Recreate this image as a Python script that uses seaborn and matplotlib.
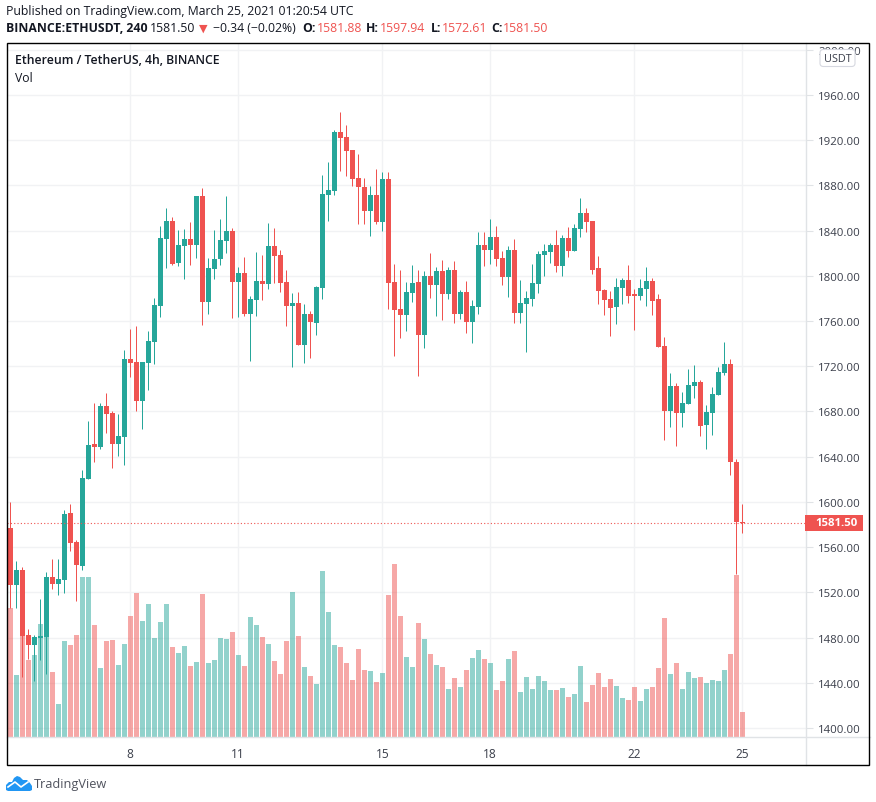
"""
==============================================================================
ETHUSDT 4h Chart — Candlesticks with Volume
==============================================================================
Purpose:
    Redraw a published candlestick snapshot with its volume bars.

Output:
    out.png
==============================================================================
"""

import pandas as pd
import numpy as np
import matplotlib.pyplot as plt
import seaborn as sns
from matplotlib.lines import Line2D
from matplotlib.patches import FancyBboxPatch, Polygon, Rectangle

# Set style
plt.style.use('default')
plt.rcParams['font.family'] = ['Open Sans', 'DejaVu Sans']

# =============================================================================
# CONFIGURATION
# =============================================================================

FIG_W = 876
FIG_H = 803

UP_COLOR = '#26a69a'
DOWN_COLOR = '#ef5350'
GRID_COLOR = '#f1f2f4'
LINE_COLOR = '#e0e3e6'
TEXT_COLOR = '#3a3e4a'

# Candles, oldest first (4h)
OPENS = [1577.0, 1526.5, 1539.8, 1482.3, 1473.4, 1479.6, 1480.5, 1533.6, 1527.4, 1530.9,
         1590.2, 1564.6, 1543.3, 1620.3, 1651.3, 1648.6, 1684.9, 1678.7, 1651.3, 1657.4,
         1726.4, 1723.8, 1689.3, 1722.9, 1741.5, 1773.3, 1832.6, 1848.5, 1811.4, 1826.4,
         1832.6, 1827.3, 1870.7, 1776.9, 1806.1, 1814.9, 1830.9, 1839.7, 1794.6, 1802.5,
         1766.3, 1778.7, 1795.5, 1792.8, 1826.4, 1818.4, 1794.5, 1773.3, 1775.9, 1738.8,
         1766.2, 1758.2, 1789.2, 1871.5, 1875.0, 1927.2, 1922.8, 1911.3, 1886.5, 1878.6,
         1857.3, 1871.5, 1847.6, 1885.6, 1794.5, 1770.6, 1765.3, 1784.8, 1794.5, 1747.6,
         1799.8, 1791.9, 1804.2, 1783.9, 1805.1, 1766.2, 1785.7, 1759.1, 1772.4, 1827.2,
         1822.8, 1834.3, 1815.7, 1798.9, 1822.8, 1767.1, 1775.0, 1779.5, 1792.7, 1818.4,
         1821.1, 1827.3, 1808.7, 1833.5, 1822.0, 1841.4, 1855.6, 1848.5, 1806.9, 1787.5,
         1779.5, 1772.4, 1789.2, 1796.3, 1783.9, 1782.1, 1788.3, 1795.4, 1779.5, 1737.9,
         1680.4, 1702.5, 1678.6, 1686.6, 1702.5, 1706.1, 1668.0, 1678.6, 1694.6, 1714.0,
         1722.0, 1635.3, 1581.88]
HIGHS = [1599.9, 1547.7, 1542.4, 1487.6, 1482.3, 1514.1, 1538.0, 1549.5, 1549.5, 1592.9,
         1598.2, 1566.3, 1628.2, 1671.6, 1687.5, 1687.5, 1696.4, 1680.4, 1677.8, 1734.4,
         1753.0, 1755.6, 1723.8, 1751.2, 1780.4, 1844.1, 1860.0, 1852.1, 1840.6, 1841.5,
         1847.7, 1870.7, 1877.7, 1815.8, 1840.6, 1850.3, 1870.7, 1842.4, 1807.9, 1816.7,
         1782.2, 1821.1, 1818.5, 1846.8, 1842.4, 1822.8, 1805.1, 1784.8, 1785.7, 1775.0,
         1768.9, 1791.0, 1889.2, 1900.7, 1929.0, 1944.9, 1933.4, 1911.3, 1907.7, 1886.5,
         1879.4, 1894.5, 1891.8, 1891.8, 1810.4, 1805.1, 1794.5, 1809.5, 1805.1, 1804.2,
         1820.2, 1807.8, 1814.0, 1807.8, 1813.1, 1787.4, 1795.4, 1778.6, 1838.7, 1838.7,
         1850.2, 1844.1, 1821.9, 1826.4, 1832.6, 1796.3, 1786.5, 1810.4, 1821.9, 1828.1,
         1829.0, 1840.5, 1836.1, 1843.2, 1845.8, 1868.8, 1860.0, 1848.5, 1817.5, 1788.3,
         1786.6, 1798.1, 1798.1, 1809.6, 1788.3, 1797.2, 1807.8, 1798.1, 1783.9, 1745.9,
         1714.0, 1705.2, 1697.2, 1717.6, 1721.1, 1707.8, 1685.7, 1701.6, 1719.3, 1741.4,
         1726.4, 1637.9, 1597.94]
LOWS = [1506.2, 1506.2, 1445.1, 1461.0, 1441.6, 1460.1, 1447.8, 1523.0, 1517.7, 1519.4,
        1556.6, 1512.4, 1539.8, 1620.3, 1635.3, 1646.8, 1661.0, 1630.0, 1640.6, 1632.7,
        1710.5, 1680.4, 1664.5, 1699.0, 1722.0, 1763.6, 1807.0, 1809.6, 1808.7, 1797.2,
        1809.6, 1815.8, 1756.5, 1766.3, 1797.2, 1809.6, 1820.2, 1762.7, 1763.6, 1764.5,
        1724.7, 1764.5, 1778.7, 1788.4, 1793.7, 1785.7, 1755.6, 1719.3, 1738.8, 1722.9,
        1727.3, 1747.6, 1779.5, 1848.5, 1871.5, 1892.7, 1888.3, 1879.4, 1845.8, 1845.8,
        1835.2, 1845.8, 1839.6, 1770.6, 1729.0, 1745.0, 1751.2, 1776.8, 1711.4, 1736.1,
        1780.4, 1764.4, 1760.9, 1779.5, 1758.2, 1761.8, 1749.4, 1740.5, 1766.2, 1808.7,
        1810.4, 1808.7, 1791.9, 1781.2, 1758.2, 1758.2, 1732.6, 1773.3, 1784.8, 1799.8,
        1811.3, 1803.4, 1799.8, 1816.6, 1822.0, 1834.3, 1838.8, 1801.6, 1775.1, 1765.3,
        1746.8, 1757.4, 1775.1, 1776.0, 1752.1, 1778.6, 1773.3, 1765.3, 1737.0, 1654.8,
        1666.3, 1649.4, 1666.3, 1686.6, 1691.9, 1658.3, 1646.8, 1659.2, 1694.6, 1712.3,
        1623.8, 1536.2, 1572.61]
CLOSES = [1526.5, 1539.8, 1481.4, 1473.4, 1480.5, 1481.4, 1533.6, 1527.4, 1531.8, 1589.3,
          1563.7, 1544.2, 1621.2, 1650.4, 1648.6, 1684.9, 1677.8, 1651.3, 1658.3, 1726.4,
          1722.9, 1689.3, 1723.8, 1742.4, 1774.2, 1833.5, 1848.5, 1810.5, 1827.3, 1832.6,
          1827.3, 1870.7, 1776.9, 1807.0, 1814.9, 1831.7, 1839.7, 1794.6, 1802.5, 1766.3,
          1779.5, 1795.5, 1792.8, 1826.4, 1817.6, 1793.6, 1773.3, 1775.9, 1738.8, 1766.2,
          1759.1, 1790.1, 1872.4, 1875.9, 1927.2, 1921.9, 1910.4, 1885.6, 1878.6, 1857.3,
          1871.5, 1847.6, 1885.6, 1793.6, 1769.7, 1765.3, 1785.7, 1793.6, 1747.6, 1799.8,
          1791.9, 1804.2, 1783.9, 1805.1, 1766.2, 1785.7, 1759.1, 1773.3, 1827.2, 1822.8,
          1834.3, 1814.9, 1798.9, 1822.8, 1767.1, 1775.9, 1780.4, 1793.6, 1819.3, 1822.0,
          1827.3, 1808.7, 1833.5, 1822.0, 1842.3, 1855.6, 1847.6, 1805.1, 1786.6, 1778.6,
          1771.5, 1790.1, 1796.3, 1782.1, 1782.1, 1789.2, 1795.4, 1777.7, 1737.0, 1680.4,
          1702.5, 1678.6, 1687.5, 1703.4, 1706.1, 1667.1, 1679.5, 1695.4, 1714.9, 1722.0,
          1635.3, 1581.9, 1581.50]

# Volume, same order (arbitrary overlay units)
VOLUMES = [129, 62, 105, 77, 82, 113, 102, 65, 33, 96, 92, 102, 160, 160, 112, 69, 96, 97,
           72, 93, 121, 144, 116, 133, 99, 115, 133, 90, 84, 91, 71, 75, 143, 74, 77, 99,
           98, 105, 82, 71, 120, 112, 100, 93, 76, 63, 96, 145, 101, 70, 61, 53, 166, 125,
           92, 90, 74, 57, 88, 67, 66, 55, 64, 142, 173, 121, 80, 70, 114, 98, 83, 72,
           70, 48, 59, 50, 67, 79, 87, 78, 74, 47, 56, 78, 86, 45, 60, 48, 61, 56,
           47, 47, 49, 40, 43, 71, 35, 52, 64, 50, 58, 51, 39, 37, 50, 36, 48, 50,
           69, 119, 63, 74, 48, 65, 59, 60, 54, 57, 56, 67, 83, 162, 25]

PRICE_TICKS = [1400 + 40 * k for k in range(16)]
DATE_TICKS = [20, 38, 62, 80, 104, 122]
DATE_LABELS = ['8', '11', '15', '18', '22', '25']
LAST_PRICE = 1581.50

# =============================================================================
# PLOTTING FUNCTIONS
# =============================================================================

def px(x, y):
    """Convert picture pixels to figure fractions."""
    return x / FIG_W, 1 - y / FIG_H

def add_text(fig, x, y, text, **kwargs):
    """Place a text at picture pixels, vertically centred."""
    fx, fy = px(x, y)
    kwargs.setdefault('color', '#131722')
    kwargs.setdefault('fontsize', 8.8)
    fig.text(fx, fy, text, va='center', ha=kwargs.pop('ha', 'left'), **kwargs)

def plot_candles(fig, df):
    """Draw grid, volume and candles on three stacked axes."""
    left, bottom = px(7, 738)
    right, top = px(805.5, 44)
    rect = [left, bottom, right - left, top - bottom]

    ax = fig.add_axes(rect, zorder=1)
    ax_vol = fig.add_axes(rect, zorder=2)
    ax_candle = fig.add_axes(rect, zorder=3)
    ax_vol.patch.set_visible(False)
    ax_candle.patch.set_visible(False)

    # Grid and axis labels
    ax.set_yticks(PRICE_TICKS)
    ax.set_yticklabels([f'{t:.2f}' for t in PRICE_TICKS], fontsize=8.2, color=TEXT_COLOR)
    ax.yaxis.tick_right()
    ax.tick_params(axis='y', length=5, color=LINE_COLOR, pad=4)
    ax.set_xticks(DATE_TICKS)
    ax.set_xticklabels(DATE_LABELS, fontsize=8.6, color=TEXT_COLOR)
    ax.tick_params(axis='x', length=0, pad=7)
    ax.grid(True, color=GRID_COLOR, linewidth=1)
    for side, spine in ax.spines.items():
        spine.set_visible(False)

    # Volume bars
    sns.barplot(data=df, x='candle', y='volume', hue='direction', native_scale=True,
                palette={'up': UP_COLOR, 'down': DOWN_COLOR}, hue_order=['up', 'down'],
                dodge=False, width=0.83, alpha=0.5, saturation=1, errorbar=None,
                legend=False, ax=ax_vol)
    ax_vol.set_axis_off()

    # Candles
    colors = np.where(df['direction'] == 'up', UP_COLOR, DOWN_COLOR)
    ax_candle.vlines(df['candle'], df['low'], df['high'], colors=colors, linewidth=0.72)
    body_low = df[['open', 'close']].min(axis=1)
    body_high = df[['open', 'close']].max(axis=1)
    ax_candle.bar(df['candle'], np.maximum(body_high - body_low, 1.0), bottom=body_low,
                  width=0.83, color=colors, linewidth=0)
    ax_candle.axhline(LAST_PRICE, color=DOWN_COLOR, linewidth=0.8, linestyle=(0, (1, 2)))
    ax_candle.set_axis_off()

    for a in (ax, ax_vol, ax_candle):
        a.set_xlim(-0.55, 132.54)
    ax.set_ylim(1392.04, 2006.0)
    ax_candle.set_ylim(1392.04, 2006.0)
    ax_vol.set_ylim(0, 694)
    return ax

def add_frame(fig):
    """Draw the outer frame, axis dividers, price label and currency box."""
    x0, y0 = px(6.5, 766)
    x1, y1 = px(869.5, 43.5)
    fig.add_artist(Rectangle((x0, y0), x1 - x0, y1 - y0, transform=fig.transFigure,
                             fill=False, edgecolor='black', linewidth=1.0, zorder=5))
    xa, ya = px(805.5, 738)
    fig.add_artist(Line2D([xa, xa], [y0, y1], color=LINE_COLOR, linewidth=1, zorder=4))
    fig.add_artist(Line2D([x0, x1], [ya, ya], color=LINE_COLOR, linewidth=1, zorder=4))

    # Last price label
    lx, ly = px(805, 532)
    lw, lh = 58 / FIG_W, 16 / FIG_H
    fig.add_artist(Rectangle((lx, ly), lw, lh, transform=fig.transFigure,
                             facecolor=DOWN_COLOR, edgecolor='none', zorder=6))
    fig.text(lx + 10 / FIG_W, ly + lh / 2, '1581.50', color='white', fontsize=8.2,
             fontweight='bold', va='center', zorder=7)

    # Currency box over the top tick label
    bx, by = px(820, 67.5)
    fig.add_artist(FancyBboxPatch((bx, by), 35 / FIG_W, 17 / FIG_H,
                                  boxstyle='round,pad=0,rounding_size=0.004',
                                  transform=fig.transFigure, facecolor='white',
                                  edgecolor='#d6d8e0', linewidth=0.8, zorder=6))
    fig.text(bx + 17.5 / FIG_W, by + 8.5 / FIG_H, 'USDT', color=TEXT_COLOR, fontsize=7.8,
             ha='center', va='center', zorder=7)

def add_header(fig):
    """Write the publication lines, the legend and the logo."""
    add_text(fig, 6, 12, 'Published on TradingView.com, March 25, 2021 01:20:54 UTC')
    add_text(fig, 6, 29, 'BINANCE:ETHUSDT, 240', fontweight='bold')
    add_text(fig, 150, 29, '1581.50')
    add_text(fig, 199, 29, '▼', color=DOWN_COLOR, fontsize=8)
    add_text(fig, 213, 29, '−0.34 (−0.02%)')

    # OHLC readout
    for x, label, x_val, value in [(302, 'O:', 317, '1581.88'), (366, 'H:', 380, '1597.94'),
                                   (431, 'L:', 442, '1572.61'), (491, 'C:', 503, '1581.50')]:
        add_text(fig, x, 29, label, fontweight='bold')
        add_text(fig, x_val, 29, value, color=DOWN_COLOR)

    add_text(fig, 15, 61, 'Ethereum / TetherUS, 4h, BINANCE', fontweight='semibold')
    add_text(fig, 15, 78, 'Vol')

    # Logo, a small cloud with a line through it
    cloud = [(6, 791), (6, 786), (9, 783), (12, 783), (14, 779), (17, 777), (20, 778),
             (23, 781), (27, 781), (30, 784), (32, 787), (32, 791), (30, 792), (8, 792)]
    fig.add_artist(Polygon([px(x, y) for x, y in cloud], closed=True,
                           transform=fig.transFigure, facecolor='#2196f3', edgecolor='none'))
    zig = [px(8, 788), px(15, 783), px(21, 788), px(28, 783)]
    fig.add_artist(Line2D([p[0] for p in zig], [p[1] for p in zig], color='white', linewidth=1.2))
    add_text(fig, 34, 785, 'TradingView', color='#50535e', fontsize=9.2)

# =============================================================================
# MAIN EXECUTION
# =============================================================================

def main():
    """Main execution function."""
    df = pd.DataFrame({'open': OPENS, 'high': HIGHS, 'low': LOWS,
                       'close': CLOSES, 'volume': VOLUMES})
    df['candle'] = df.index
    df['direction'] = np.where(df['close'] > df['open'], 'up', 'down')

    fig = plt.figure(figsize=(FIG_W / 100, FIG_H / 100), dpi=100)
    plot_candles(fig, df)
    add_frame(fig)
    add_header(fig)

    fig.savefig('out.png', dpi=100)
    plt.close(fig)

if __name__ == "__main__":
    main()
